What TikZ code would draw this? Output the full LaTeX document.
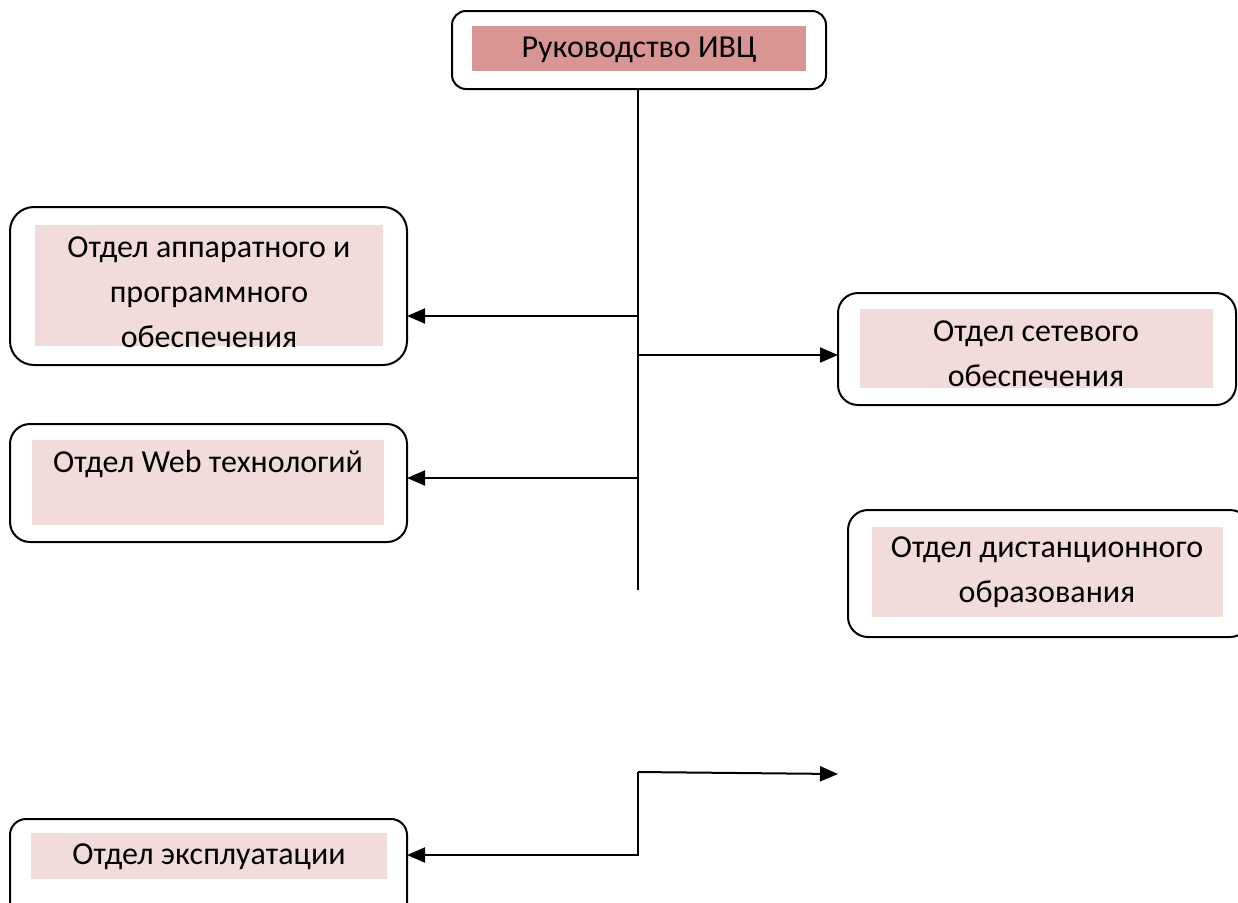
\documentclass[tikz,border=0pt]{standalone}
\usepackage{fontspec}
\setmainfont{Carlito}
\usetikzlibrary{arrows.meta}
\definecolor{headfill}{HTML}{D99594}
\definecolor{deptfill}{HTML}{F2DCDB}
\tikzset{
  outerbox/.style={draw=black, line width=2pt, rounded corners=14pt, fill=white},
  innerbox/.style={fill=#1, draw=none},
  txt/.style={font=\fontsize{32}{45}\selectfont, align=center, inner sep=0pt, text=black},
  conn/.style={line width=2pt, draw=black},
  arr/.style={conn, -{Triangle[length=18pt,width=15pt]}},
}
\begin{document}
\begin{tikzpicture}[x=1pt,y=-1pt]
\useasboundingbox (0,0) rectangle (1238,902);
\clip (0,0) rectangle (1238,902);
% head
\draw[outerbox] (452,11) rectangle (826,89);
\node[innerbox=headfill, minimum width=334pt, minimum height=45pt] (headin) at (639,48.5) {};
\node[txt] (head) at (639,50) {Руководство ИВЦ};
\coordinate (headb) at (638,89);
% boxes
\draw[outerbox, rounded corners=24pt] (10,207) rectangle (407,365);
\node[innerbox=deptfill, minimum width=348pt, minimum height=121pt] (ain) at (209,285.5) {};
\node[txt] (a) at (209,292) {Отдел аппаратного и\\программного\\обеспечения};
\coordinate (aE) at (407,316);

\draw[outerbox, rounded corners=20pt] (838,293) rectangle (1236,405);
\node[innerbox=deptfill, minimum width=353pt, minimum height=79pt] (bin) at (1036.5,348.5) {};
\node[txt] (b) at (1036,354) {Отдел сетевого\\обеспечения};
\coordinate (bW) at (838,355);

\draw[outerbox, rounded corners=20pt] (10,424) rectangle (407,542);
\node[innerbox=deptfill, minimum width=352pt, minimum height=85pt] (cin) at (208,482.5) {};
\node[txt] (c) at (208,464) {Отдел Web технологий};
\coordinate (cE) at (407,478);

\draw[outerbox, rounded corners=20pt] (848,510) rectangle (1250,637);
\node[innerbox=deptfill, minimum width=351pt, minimum height=90pt] (din) at (1047.5,572) {};
\node[txt] (d) at (1047,572) {Отдел дистанционного\\образования};

\draw[outerbox, rounded corners=16pt] (10,819) rectangle (407,920);
\node[innerbox=deptfill, minimum width=356pt, minimum height=46pt] (ein) at (209,856) {};
\node[txt] (e) at (209,857) {Отдел эксплуатации};
\coordinate (eE) at (407,855);

% trunk
\coordinate (tEnd) at (638,590);
\coordinate (ja) at (638,316);
\coordinate (jb) at (638,355);
\coordinate (jc) at (638,478);
\draw[conn] (headb) -- (tEnd);
\draw[arr] (ja) -- (aE);
\draw[arr] (jb) -- (bW);
\draw[arr] (jc) -- (cE);
% bottom branch
\coordinate (bt) at (638,772);
\coordinate (bb) at (638,855);
\coordinate (bfree) at (838,774);
\draw[arr] (bt) -- (bfree);
\draw[arr] (bt) -- (bb) -- (eE);
\end{tikzpicture}
\end{document}
